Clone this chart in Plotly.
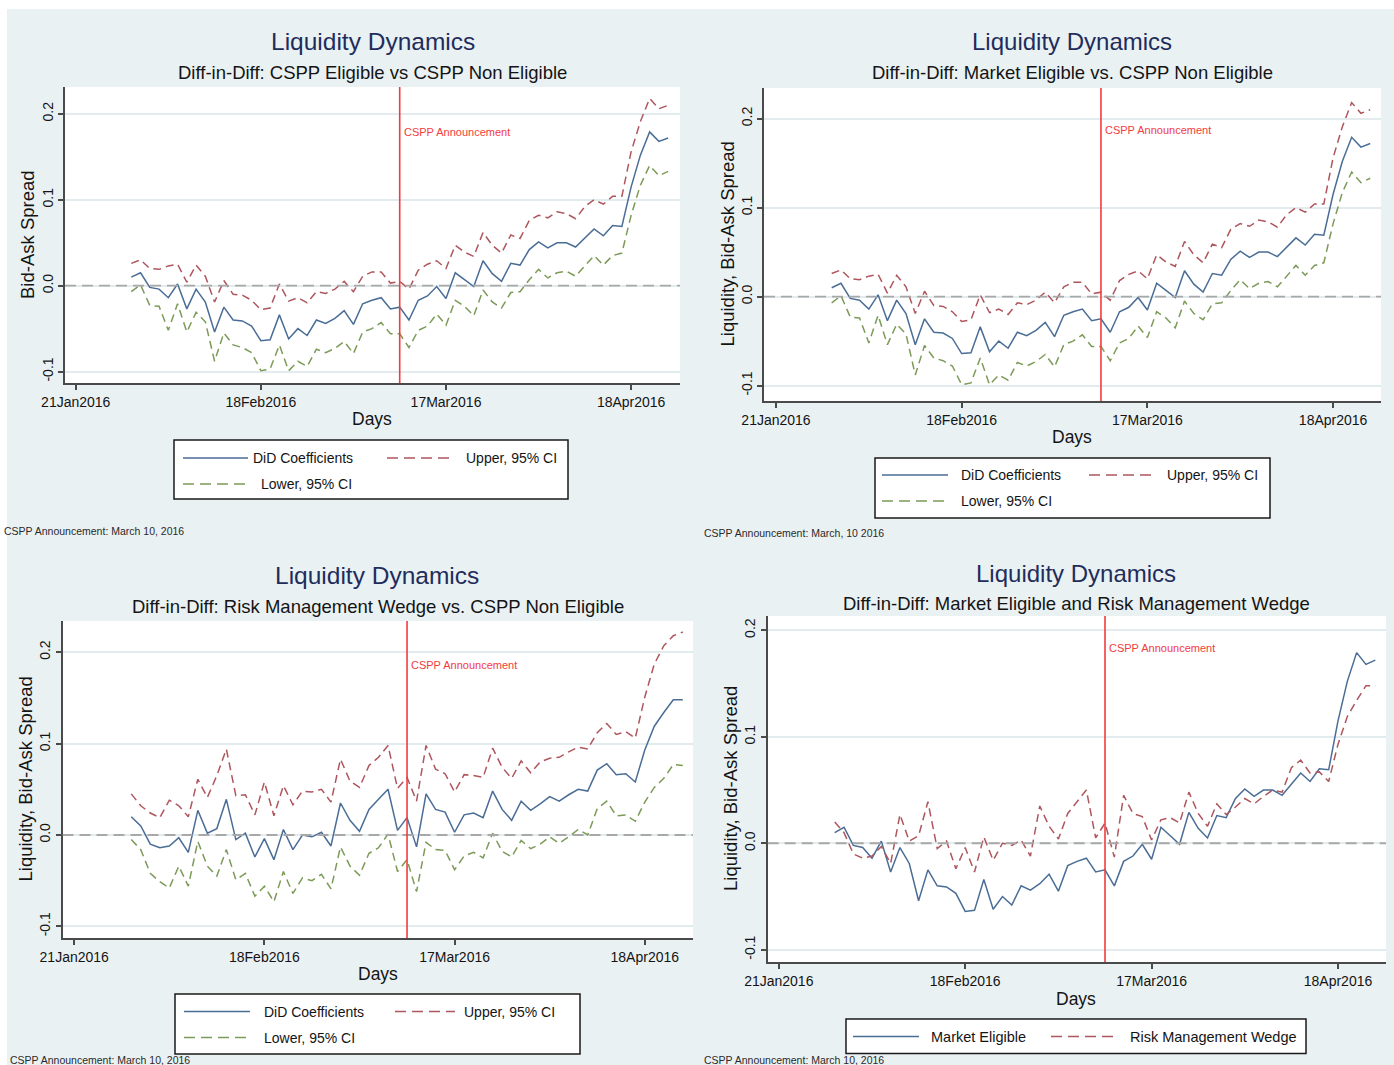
import pandas as pd
import plotly.graph_objects as go

W, H = 1394, 1065
FONT = "Liberation Sans, Arial, sans-serif"

# ---------------------------------------------------------------- calendar
# Trading-day axis (Good Friday and Easter Monday closed)
holidays = ["2016-03-25", "2016-03-28"]
calendar = pd.bdate_range("2016-01-21", "2016-04-22", freq="C", holidays=holidays)
day_pos = {d: i for i, d in enumerate(calendar)}

series_dates = calendar[calendar >= pd.Timestamp("2016-01-29")]
x_days = [day_pos[d] for d in series_dates]

tick_dates = ["2016-01-21", "2016-02-18", "2016-03-17", "2016-04-18"]
tick_labels = ["21Jan2016", "18Feb2016", "17Mar2016", "18Apr2016"]
tick_vals = [day_pos[pd.Timestamp(d)] for d in tick_dates]
announcement_day = day_pos[pd.Timestamp("2016-03-10")]

y_ticks = [-0.1, 0.0, 0.1, 0.2]
y_tick_labels = ["-0.1", "0.0", "0.1", "0.2"]

# ---------------------------------------------------------------- data
# CSPP Eligible vs CSPP Non Eligible
cspp_did = [0.010, 0.015, -0.002, -0.004, -0.014, 0.002, -0.027, -0.004, -0.019, -0.054,
            -0.025, -0.040, -0.041, -0.047, -0.064, -0.063, -0.034, -0.062, -0.050, -0.058,
            -0.040, -0.044, -0.038, -0.029, -0.045, -0.021, -0.017, -0.014, -0.027, -0.025,
            -0.040, -0.017, -0.012, -0.001, -0.015, 0.015, 0.007, -0.001, 0.029, 0.014,
            0.005, 0.026, 0.024, 0.042, 0.051, 0.044, 0.050, 0.050, 0.045, 0.056,
            0.066, 0.058, 0.070, 0.069, 0.115, 0.152, 0.179, 0.168, 0.172]
cspp_upper = [0.026, 0.030, 0.020, 0.019, 0.023, 0.025, 0.004, 0.024, 0.011, -0.019,
              0.006, -0.010, -0.011, -0.017, -0.028, -0.026, 0.002, -0.018, -0.014, -0.020,
              -0.007, -0.009, -0.004, 0.005, -0.007, 0.011, 0.016, 0.016, 0.003, 0.005,
              -0.004, 0.018, 0.025, 0.029, 0.020, 0.047, 0.039, 0.034, 0.062, 0.047,
              0.038, 0.059, 0.055, 0.076, 0.082, 0.079, 0.086, 0.084, 0.078, 0.092,
              0.100, 0.095, 0.104, 0.104, 0.156, 0.191, 0.218, 0.206, 0.210]
cspp_lower = [-0.007, 0.001, -0.023, -0.024, -0.052, -0.021, -0.054, -0.031, -0.042, -0.088,
              -0.055, -0.069, -0.072, -0.078, -0.099, -0.097, -0.069, -0.099, -0.088, -0.094,
              -0.074, -0.078, -0.073, -0.065, -0.079, -0.054, -0.050, -0.043, -0.056, -0.056,
              -0.072, -0.052, -0.047, -0.033, -0.046, -0.017, -0.024, -0.035, -0.005, -0.019,
              -0.026, -0.008, -0.007, 0.007, 0.019, 0.009, 0.015, 0.017, 0.011, 0.023,
              0.035, 0.024, 0.035, 0.038, 0.082, 0.117, 0.140, 0.128, 0.133]

# Market Eligible vs CSPP Non Eligible
market_did = list(cspp_did)
market_upper = list(cspp_upper)
market_lower = list(cspp_lower)

# Risk Management Wedge vs CSPP Non Eligible
wedge_did = [0.020, 0.010, -0.010, -0.014, -0.012, -0.003, -0.019, 0.027, 0.002, 0.007,
             0.039, -0.005, 0.002, -0.024, -0.004, -0.027, 0.006, -0.016, 0.000, -0.002,
             0.003, -0.012, 0.035, 0.016, 0.004, 0.028, 0.039, 0.050, 0.005, 0.019,
             -0.013, 0.045, 0.028, 0.025, 0.003, 0.022, 0.024, 0.019, 0.048, 0.028,
             0.016, 0.037, 0.027, 0.034, 0.042, 0.037, 0.044, 0.050, 0.048, 0.071,
             0.078, 0.066, 0.067, 0.058, 0.093, 0.119, 0.134, 0.148, 0.148]
wedge_upper = [0.045, 0.032, 0.024, 0.019, 0.038, 0.032, 0.020, 0.061, 0.041, 0.065,
               0.094, 0.043, 0.044, 0.022, 0.058, 0.021, 0.054, 0.033, 0.048, 0.047,
               0.050, 0.036, 0.083, 0.059, 0.052, 0.076, 0.085, 0.098, 0.051, 0.063,
               0.037, 0.098, 0.072, 0.067, 0.047, 0.066, 0.065, 0.063, 0.095, 0.074,
               0.062, 0.081, 0.068, 0.080, 0.084, 0.085, 0.091, 0.096, 0.094, 0.112,
               0.122, 0.110, 0.113, 0.106, 0.151, 0.187, 0.207, 0.218, 0.222]
wedge_lower = [-0.005, -0.016, -0.042, -0.051, -0.058, -0.034, -0.056, -0.007, -0.034, -0.045,
               -0.016, -0.049, -0.042, -0.067, -0.056, -0.073, -0.040, -0.064, -0.047, -0.050,
               -0.043, -0.059, -0.013, -0.034, -0.044, -0.020, -0.014, 0.001, -0.040, -0.027,
               -0.062, -0.008, -0.016, -0.017, -0.038, -0.023, -0.019, -0.025, 0.002, -0.018,
               -0.024, -0.006, -0.015, -0.010, -0.002, -0.009, -0.002, 0.006, 0.000, 0.029,
               0.037, 0.021, 0.022, 0.015, 0.036, 0.052, 0.062, 0.077, 0.076]

# ---------------------------------------------------------------- styles
BLUE, RED, GREEN = "#4A6D96", "#AE565D", "#7C9A58"
SOLID, DASHED = "solid", "8px,5px"
LEGEND_DASH = "11px,6px"
TITLE_COLOR = "#1F2D5C"
TEXT_COLOR = "#141414"
AXIS_COLOR = "#4A4A4A"
ANNOUNCE_RED = "#F23C3C"

did_keys = ("DiD Coefficients", "Upper, 95% CI", "Lower, 95% CI")

panels = [
    dict(title="Liquidity Dynamics", title_size=24.5, title_xy=(373, 42),
         subtitle="Diff-in-Diff: CSPP Eligible vs CSPP Non Eligible", sub_xy=(372, 72),
         ytitle="Bid-Ask Spread", ytitle_xy=(28, 235), days_xy=(372, 419),
         plot=(65, 680, 87, 383), xrange=(-1.16, 65.28), yrange=(-0.1133, 0.2313),
         label_y=0.179,
         series=[(cspp_did, BLUE, SOLID), (cspp_upper, RED, DASHED), (cspp_lower, GREEN, DASHED)],
         legend_box=(174, 440, 568, 499),
         legend=[(did_keys[0], BLUE, SOLID, 183, 248, 251, 458),
                 (did_keys[1], RED, LEGEND_DASH, 387, 454, 464, 458),
                 (did_keys[2], GREEN, LEGEND_DASH, 183, 248, 259, 484)],
         legend_size=14,
         note="CSPP Announcement: March 10, 2016", note_xy=(2, 531)),
    dict(title="Liquidity Dynamics", title_size=24, title_xy=(1072, 41),
         subtitle="Diff-in-Diff: Market Eligible vs. CSPP Non Eligible", sub_xy=(1072, 72),
         ytitle="Liquidity, Bid-Ask Spread", ytitle_xy=(727, 244.5), days_xy=(1072, 437),
         plot=(764, 1381, 88, 401), xrange=(-1.29, 65.16), yrange=(-0.1173, 0.2344),
         label_y=0.187,
         series=[(market_did, BLUE, SOLID), (market_upper, RED, DASHED), (market_lower, GREEN, DASHED)],
         legend_box=(875, 458, 1270, 518),
         legend=[(did_keys[0], BLUE, SOLID, 882, 948, 959, 475),
                 (did_keys[1], RED, LEGEND_DASH, 1089, 1155, 1165, 475),
                 (did_keys[2], GREEN, LEGEND_DASH, 882, 948, 959, 501)],
         legend_size=14,
         note="CSPP Announcement: March, 10 2016", note_xy=(702, 533)),
    dict(title="Liquidity Dynamics", title_size=24.5, title_xy=(377, 575),
         subtitle="Diff-in-Diff: Risk Management Wedge vs. CSPP Non Eligible", sub_xy=(378, 606),
         ytitle="Liquidity, Bid-Ask Spread", ytitle_xy=(24.5, 779), days_xy=(378, 974),
         plot=(62.5, 693, 621, 938), xrange=(-1.23, 65.07), yrange=(-0.1127, 0.2341),
         label_y=0.186,
         series=[(wedge_did, BLUE, SOLID), (wedge_upper, RED, DASHED), (wedge_lower, GREEN, DASHED)],
         legend_box=(175, 994, 580, 1054),
         legend=[(did_keys[0], BLUE, SOLID, 184, 250, 262, 1011.5),
                 (did_keys[1], RED, LEGEND_DASH, 395, 455, 462, 1011.5),
                 (did_keys[2], GREEN, LEGEND_DASH, 184, 250, 262, 1037.5)],
         legend_size=14,
         note="CSPP Announcement: March 10, 2016", note_xy=(8, 1059.5)),
    dict(title="Liquidity Dynamics", title_size=24, title_xy=(1076, 573),
         subtitle="Diff-in-Diff: Market Eligible and Risk Management Wedge", sub_xy=(1076, 603),
         ytitle="Liquidity, Bid-Ask Spread", ytitle_xy=(730, 789), days_xy=(1076, 999),
         plot=(767.7, 1386, 616, 962), xrange=(-1.19, 65.15), yrange=(-0.1115, 0.2134),
         label_y=0.183,
         series=[(market_did, BLUE, SOLID), (wedge_did, RED, DASHED)],
         legend_box=(846, 1019, 1306, 1053.5),
         legend=[("Market Eligible", BLUE, SOLID, 853, 919, 929, 1036.5),
                 ("Risk Management Wedge", RED, LEGEND_DASH, 1051, 1117, 1128, 1036.5)],
         legend_size=14.5,
         note="CSPP Announcement: March 10, 2016", note_xy=(702, 1059.5)),
]


def px(x):
    return x / W


def py(y):
    return 1 - y / H


def label(x, y, text, size, color=TEXT_COLOR, xanchor="center", angle=0):
    return dict(xref="paper", yref="paper", x=px(x), y=py(y), text=text, showarrow=False,
                xanchor=xanchor, yanchor="middle", textangle=angle,
                font=dict(family=FONT, size=size, color=color))


fig = go.Figure()
layout = dict(width=W, height=H, margin=dict(l=0, r=0, t=0, b=0, autoexpand=False),
              paper_bgcolor="#EAF1F3", plot_bgcolor="#FFFFFF", showlegend=False,
              font=dict(family=FONT, color=TEXT_COLOR))
shapes, annotations = [], []

# white frame strips on the top and left page edges
shapes.append(dict(type="rect", xref="paper", yref="paper", x0=0, x1=px(7), y0=0, y1=1,
                   fillcolor="#FFFFFF", line=dict(width=0), layer="below"))
shapes.append(dict(type="rect", xref="paper", yref="paper", x0=0, x1=1, y0=py(9), y1=1,
                   fillcolor="#FFFFFF", line=dict(width=0), layer="below"))

for k, p in enumerate(panels, start=1):
    sfx = "" if k == 1 else str(k)
    xa, ya = "x" + sfx, "y" + sfx
    l, r, t, b = p["plot"]

    layout["xaxis" + sfx] = dict(
        domain=[px(l), px(r)], range=list(p["xrange"]), anchor=ya,
        tickmode="array", tickvals=tick_vals, ticktext=tick_labels,
        showline=True, linecolor=AXIS_COLOR, linewidth=1.5,
        ticks="outside", ticklen=5, tickwidth=1.5, tickcolor=AXIS_COLOR,
        showgrid=False, zeroline=False, fixedrange=True, automargin=False,
        tickfont=dict(family=FONT, size=14, color=TEXT_COLOR))
    layout["yaxis" + sfx] = dict(
        domain=[py(b), py(t)], range=list(p["yrange"]), anchor=xa,
        tickmode="array", tickvals=y_ticks, ticktext=y_tick_labels, tickangle=-90,
        showline=True, linecolor=AXIS_COLOR, linewidth=1.5,
        ticks="outside", ticklen=5, tickwidth=1.5, tickcolor=AXIS_COLOR,
        showgrid=True, gridcolor="#E2ECEF", gridwidth=1.6, zeroline=False, fixedrange=True,
        automargin=False,
        tickfont=dict(family=FONT, size=14, color=TEXT_COLOR))

    for values, color, dash in p["series"]:
        fig.add_trace(go.Scatter(x=x_days, y=values, mode="lines", xaxis=xa, yaxis=ya,
                                 line=dict(color=color, width=1.5, dash=dash),
                                 hoverinfo="skip"))

    # reference line at zero across the full axis range
    x_lo, x_hi = p["xrange"]
    shapes.append(dict(type="line", xref=xa, yref=ya, x0=x_lo, x1=x_hi, y0=0, y1=0,
                       line=dict(color="#A8A8A8", width=1.8, dash="11px,6px"), layer="above"))
    # announcement date
    shapes.append(dict(type="line", xref=xa, yref=ya + " domain",
                       x0=announcement_day, x1=announcement_day, y0=0, y1=1,
                       line=dict(color=ANNOUNCE_RED, width=1.6), layer="above"))
    annotations.append(dict(xref=xa, yref=ya, x=announcement_day, y=p["label_y"],
                            text="CSPP Announcement", showarrow=False, xanchor="left",
                            yanchor="middle", xshift=2,
                            font=dict(family=FONT, size=11, color=ANNOUNCE_RED)))

    # titles and axis titles
    annotations.append(label(*p["title_xy"], p["title"], p["title_size"], TITLE_COLOR))
    annotations.append(label(*p["sub_xy"], p["subtitle"], 18.5))
    annotations.append(label(*p["ytitle_xy"], p["ytitle"], 18.5, angle=-90))
    annotations.append(label(*p["days_xy"], "Days", 17.5))

    # legend box
    bx0, by0, bx1, by1 = p["legend_box"]
    shapes.append(dict(type="rect", xref="paper", yref="paper",
                       x0=px(bx0), x1=px(bx1), y0=py(by1), y1=py(by0),
                       fillcolor="#FFFFFF", line=dict(color="#1A1A1A", width=1.5)))
    for name, color, dash, lx0, lx1, tx, ty in p["legend"]:
        shapes.append(dict(type="line", xref="paper", yref="paper",
                           x0=px(lx0), x1=px(lx1), y0=py(ty), y1=py(ty),
                           line=dict(color=color, width=1.5, dash=dash)))
        annotations.append(label(tx, ty, name, p["legend_size"], xanchor="left"))

    # note
    annotations.append(label(*p["note_xy"], p["note"], 10.5, "#2A2A2A", xanchor="left"))

layout["shapes"] = shapes
layout["annotations"] = annotations
fig.update_layout(**layout)
fig.write_html("out.html", config={"displayModeBar": False})
